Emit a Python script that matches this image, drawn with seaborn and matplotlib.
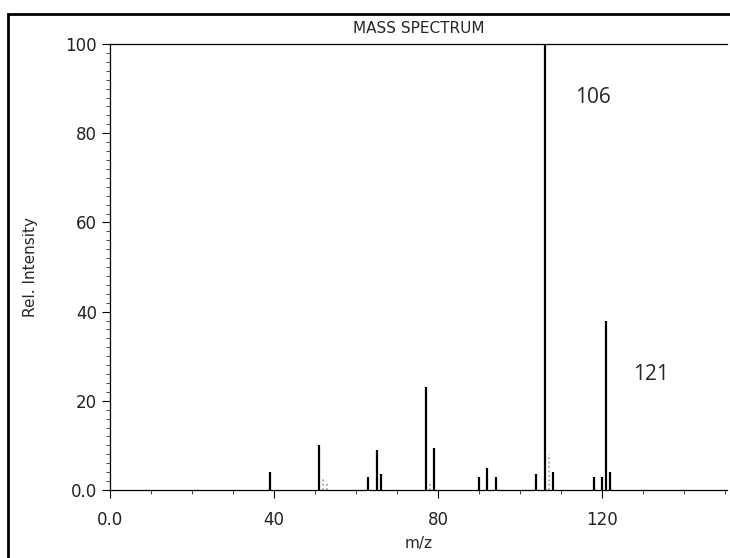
import numpy as np
import pandas as pd
import seaborn as sns
import matplotlib.pyplot as plt
from matplotlib.patches import Rectangle
from matplotlib.ticker import MultipleLocator

# peaks (m/z, relative intensity)
mz = [39, 51, 63, 65, 66, 77, 79, 90, 92, 94, 104, 106, 108, 118, 120, 121, 122]
intensity = [4, 10, 3, 9, 3.5, 23, 9.5, 3, 5, 3, 3.5, 100, 4, 3, 3, 38, 4]

# faint (grey, dotted) peaks
mz_faint = [52, 53, 78, 107]
intensity_faint = [2.5, 2, 2, 8]

labels = ["106", "121"]
label_pos = [(113.5, 88), (127.5, 26)]

df = pd.DataFrame({"mz": mz, "intensity": intensity})
df_faint = pd.DataFrame({"mz": mz_faint, "intensity": intensity_faint})

sns.set_style("ticks")
plt.rcParams['font.family'] = ['DejaVu Sans']

fig = plt.figure(figsize=(7.3, 5.58), dpi=100)
ax = fig.add_axes([0.151, 0.122, 0.845, 0.799])

ax.vlines(df_faint["mz"], 0, df_faint["intensity"], colors="#999999",
          linestyles=":", linewidth=1.2)
ax.vlines(df["mz"], 0, df["intensity"], colors="black", linewidth=1.6)

ax.set_xlim(0, 150.5)
ax.set_ylim(0, 100)

ax.xaxis.set_major_locator(MultipleLocator(40))
ax.xaxis.set_minor_locator(MultipleLocator(10))
ax.yaxis.set_major_locator(MultipleLocator(20))
ax.yaxis.set_minor_locator(MultipleLocator(2))
ax.set_xticklabels(["0.0" if t == 0 else f"{t:.0f}" for t in ax.get_xticks()])
ax.set_yticklabels(["0.0" if t == 0 else f"{t:.0f}" for t in ax.get_yticks()])
ax.tick_params(axis="both", which="major", length=6, width=0.8, labelsize=12,
               color="black", labelcolor="#222222")
ax.tick_params(axis="both", which="minor", length=3, width=0.6)
ax.tick_params(axis="x", pad=9)

for s in ["right"]:
    ax.spines[s].set_visible(False)
for s in ["left", "bottom", "top"]:
    ax.spines[s].set_linewidth(0.9)
    ax.spines[s].set_color("black")

ax.set_xlabel("m/z", fontsize=11, labelpad=5)
ax.set_ylabel("Rel. Intensity", fontsize=11, labelpad=20)
ax.set_title("MASS SPECTRUM", fontsize=11, pad=8)

for lab, (x, y) in zip(labels, label_pos):
    ax.text(x, y, lab, fontsize=15, family=["Open Sans", "DejaVu Sans"],
            ha="left", va="center")

# outer frame of the scanned page
fig.patches.append(Rectangle((0.011, -0.1), 1.2, 1.075, transform=fig.transFigure,
                             fill=False, edgecolor="black", linewidth=2.0))

fig.savefig("out.png", dpi=100)
